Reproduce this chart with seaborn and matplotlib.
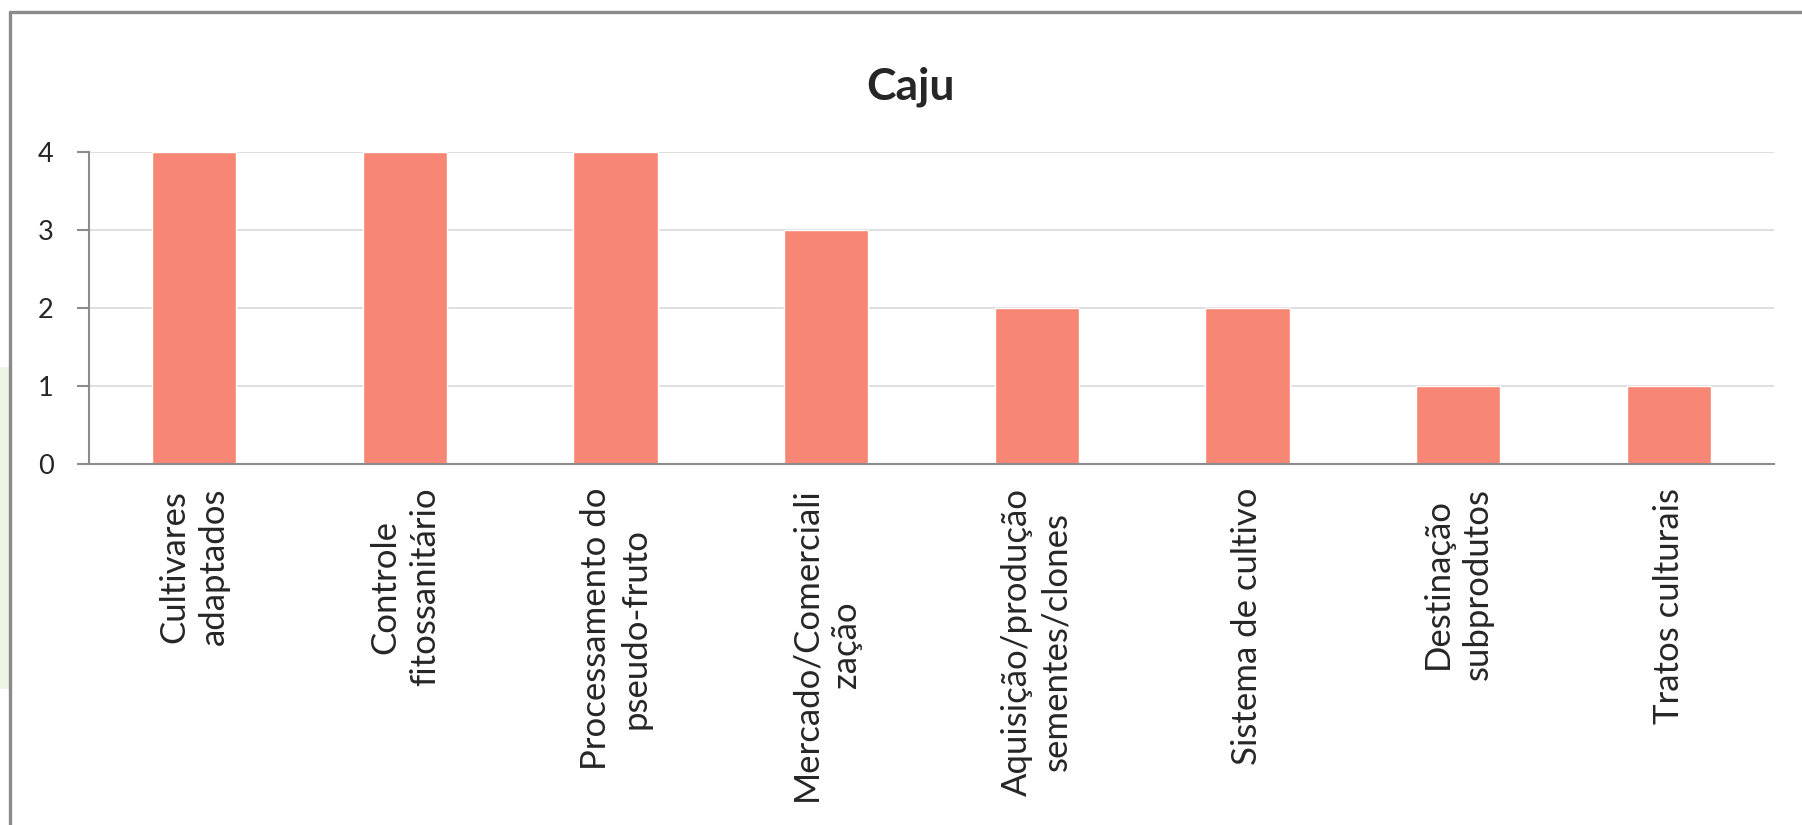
import numpy as np
import pandas as pd
import seaborn as sns
import matplotlib.pyplot as plt
from matplotlib.lines import Line2D
from matplotlib.patches import Rectangle

# Dados do gráfico
categorias = [
    'Cultivares\nadaptados',
    'Controle\nfitossanitário',
    'Processamento do\npseudo-fruto',
    'Mercado/Comerciali\nzação',
    'Aquisição/produção\nsementes/clones',
    'Sistema de cultivo',
    'Destinação\nsubprodutos',
    'Tratos culturais',
]
valores = [4, 4, 4, 3, 2, 2, 1, 1]
titulo = 'Caju'
yticks = [0, 1, 2, 3, 4]

df = pd.DataFrame({'categoria': categorias, 'valor': valores})

sns.set_style('white')
plt.rcParams['font.family'] = ['Lato', 'DejaVu Sans']

fig = plt.figure(figsize=(18.02, 8.25), dpi=100)
ax = fig.add_axes([0.0494, 0.4376, 0.9351, 0.3782])

sns.barplot(data=df, x='categoria', y='valor', color='#F88674',
            width=0.4, saturation=1, ax=ax)

ax.set_xlim(-0.5, len(categorias) - 0.5)
ax.set_ylim(0, 4)
ax.set_yticks(yticks)
ax.set_xlabel('')
ax.set_ylabel('')

ax.grid(True, axis='y', color='#D9D9D9', linewidth=1.2)
ax.set_axisbelow(True)
for s in ['top', 'right']:
    ax.spines[s].set_visible(False)
for s in ['left', 'bottom']:
    ax.spines[s].set_color('#8C8C8C')
    ax.spines[s].set_linewidth(1.5)

# rótulos do eixo x
ax.tick_params(axis='x', which='major', length=0, pad=17)
ax.set_xticks(range(len(categorias)))
ax.set_xticklabels(categorias, rotation=90, fontsize=25,
                   multialignment='center', linespacing=1.3)
# marcas entre categorias
ax.set_xticks(np.arange(-0.5, len(categorias)), minor=True)
ax.tick_params(axis='x', which='minor', length=8.5, width=1.5,
               color='#8C8C8C', direction='out')
ax.tick_params(axis='y', length=8.5, width=1.5, color='#8C8C8C',
               labelsize=19.5, pad=17, direction='out', left=True)

fig.text(0.505, 0.895, titulo, ha='center', va='center',
         fontsize=32, fontweight='bold')

# moldura
fig.add_artist(Rectangle((0, 0.165), 0.005, 0.39, transform=fig.transFigure,
                         color='#EEF5E4', lw=0))
fig.add_artist(Line2D([0.0058, 0.0058], [0, 0.9855], transform=fig.transFigure,
                      color='#8A8A8A', lw=2.4))
fig.add_artist(Line2D([0.0058, 1], [0.9855, 0.9855], transform=fig.transFigure,
                      color='#8A8A8A', lw=2.4))

fig.savefig('out.png', dpi=100)
